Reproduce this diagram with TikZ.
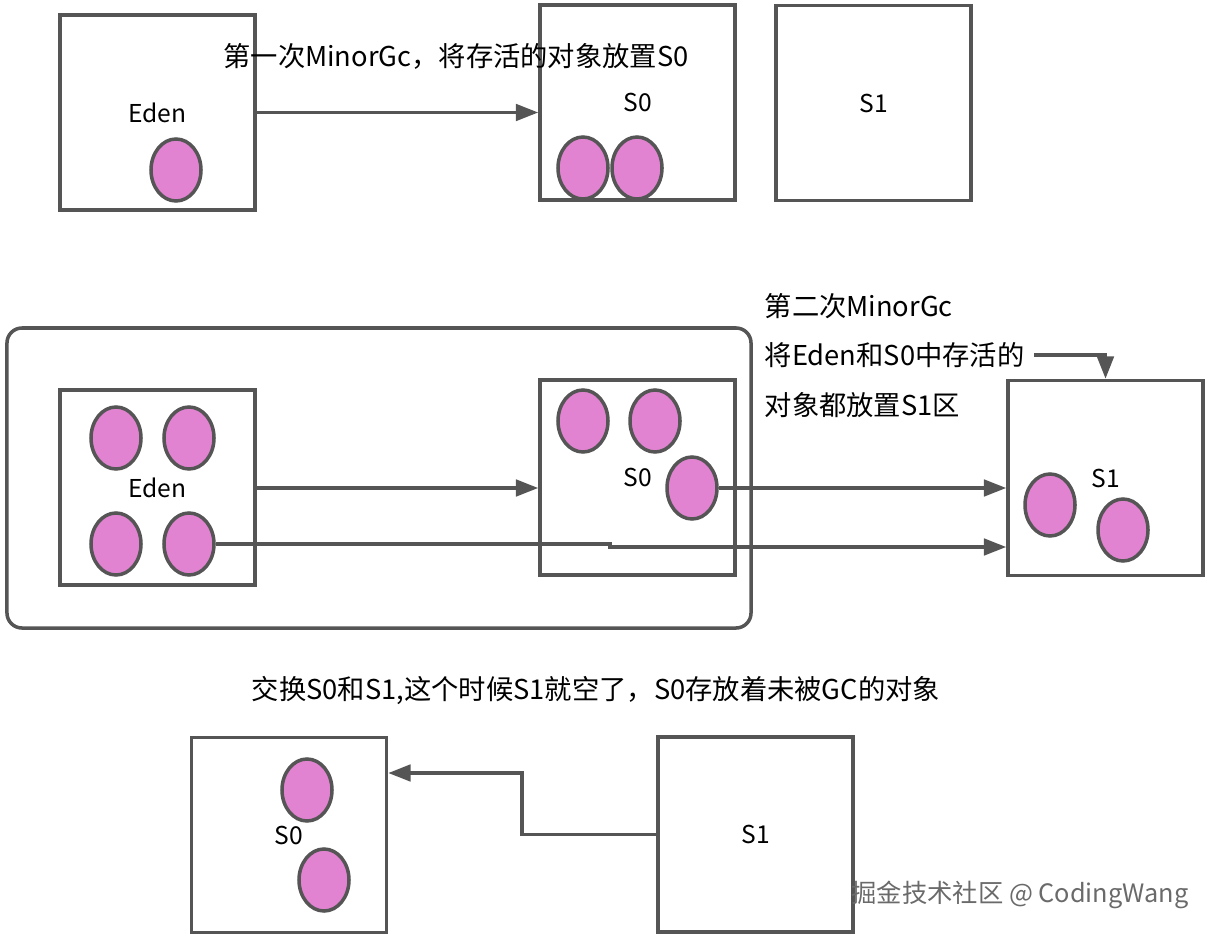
\documentclass[tikz,border=0pt]{standalone}
\usepackage{fontspec}
\setmainfont{Noto Sans CJK SC}
\usetikzlibrary{shapes.geometric,arrows.meta,calc}
\definecolor{linegray}{HTML}{555555}
\definecolor{objpink}{HTML}{E283D2}
\definecolor{markgray}{HTML}{6A6A6A}
\begin{document}
\begin{tikzpicture}[x=0.03cm,y=-0.03cm,line width=3pt,
    area/.style={draw=linegray,minimum width=5.85cm,minimum height=5.85cm,inner sep=0pt,
                 font=\fontsize{21}{25}\selectfont},
    obj/.style={ellipse,draw=linegray,fill=objpink,minimum width=1.5cm,minimum height=1.86cm,inner sep=0pt},
    txt/.style={font=\fontsize{23.3}{28}\selectfont,inner sep=0pt},
    flow/.style={draw=linegray,-{Triangle[length=19pt,width=14pt]}}]
  \useasboundingbox (0,0) rectangle (1214,937);

  % first MinorGc
  \node[area] (eden1) at (157.5,112.5) {Eden};
  \node[area] (s0a) at (637.5,102.5) {S0};
  \node[area] (s1a) at (873.5,103) {S1};
  \node[obj] (e1) at (176,170) {};
  \node[obj] (a1) at (583,168) {};
  \node[obj] (a2) at (637,168) {};
  \draw[flow] (eden1) -- (s0a.west |- eden1);
  \node[txt] (note1) at (456,56) {第一次MinorGc，将存活的对象放置S0};

  % second MinorGc
  \node[draw=linegray,rounded corners=15*0.03cm,minimum width=22.32cm,minimum height=9cm]
        (young) at (379,478) {};
  \node[area] (eden2) at (157.5,487.5) {Eden};
  \node[area] (s0b) at (637.5,477.5) {S0};
  \node[area] (s1b) at (1105.5,478) {S1};
  \node[obj] (e2) at (116,438) {};
  \node[obj] (e3) at (189,438) {};
  \node[obj] (e4) at (116,544) {};
  \node[obj] (e5) at (189,544) {};
  \node[obj] (b1) at (583,421) {};
  \node[obj] (b2) at (655,421) {};
  \node[obj] (b3) at (692,488) {};
  \node[obj] (c1) at (1050,505) {};
  \node[obj] (c2) at (1123,530) {};
  \coordinate (step) at (610,547);
  \draw[flow] (eden2.east |- 0,488) -- (s0b.west |- 0,488);
  \draw[flow] (b3.east) -- (b3.east -| s1b.west);
  \draw[flow] (e5.east) -- (e5.east -| step) -- (step) -- (step -| s1b.west);
  \node[txt,anchor=west] (l1) at (763,306) {第二次MinorGc};
  \node[txt,anchor=west] (l2) at (763,355) {将Eden和S0中存活的};
  \node[txt,anchor=west] (l3) at (763,405) {对象都放置S1区};
  \draw[flow] ($(l2.east)+(8,0)$) -| (s1b.north);

  % swap
  \node[txt] (note3) at (596,690) {交换S0和S1,这个时候S1就空了，S0存放着未被GC的对象};
  \node[area] (s0c) at (289,835) {S0};
  \node[area] (s1c) at (755.5,834.5) {S1};
  \node[obj] (d1) at (307,790) {};
  \node[obj] (d2) at (324,880) {};
  \coordinate (turn) at (522,773);
  \draw[flow] (s1c.west) -| (turn) -- (turn -| s0c.east);

  \node[txt,font=\fontsize{21.6}{26}\selectfont,anchor=east,text=markgray] (mark) at (1190,895) {掘金技术社区 @ CodingWang};
\end{tikzpicture}
\end{document}
